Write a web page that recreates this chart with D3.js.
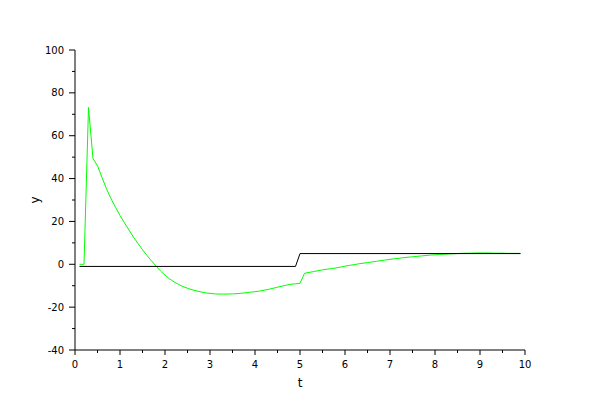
<!DOCTYPE html>
<html>
<head>
<meta charset="utf-8">
<script src="https://cdn.jsdelivr.net/npm/d3@7"></script>
<style>
  body { margin: 0; background: #fff; }
  svg { display: block; }
  text { font-family: "DejaVu Sans", sans-serif; }
</style>
</head>
<body>
<svg id="chart" width="600" height="400"></svg>
<script>
// ---- data ----
const xTicks = [0, 1, 2, 3, 4, 5, 6, 7, 8, 9, 10];
const yTicks = [-40, -20, 0, 20, 40, 60, 80, 100];
const xDomain = [0, 10];
const yDomain = [-40, 100];

// reference (setpoint) signal, black
const refT = [0.1, 4.9, 5.0, 9.9];
const refV = [-1, -1, 5, 5];

// response signal, green (sampled every 0.1 s)
const respT = [
  0.1, 0.2, 0.3, 0.4, 0.5, 0.6, 0.7, 0.8, 0.9, 1.0,
  1.1, 1.2, 1.3, 1.4, 1.5, 1.6, 1.7, 1.8, 1.9, 2.0,
  2.1, 2.2, 2.3, 2.4, 2.5, 2.6, 2.7, 2.8, 2.9, 3.0,
  3.1, 3.2, 3.3, 3.4, 3.5, 3.6, 3.7, 3.8, 3.9, 4.0,
  4.1, 4.2, 4.3, 4.4, 4.5, 4.6, 4.7, 4.8, 4.9, 5.0,
  5.1, 5.2, 5.3, 5.4, 5.5, 5.6, 5.7, 5.8, 5.9, 6.0,
  6.1, 6.2, 6.3, 6.4, 6.5, 6.6, 6.7, 6.8, 6.9, 7.0,
  7.1, 7.2, 7.3, 7.4, 7.5, 7.6, 7.7, 7.8, 7.9, 8.0,
  8.1, 8.2, 8.3, 8.4, 8.5, 8.6, 8.7, 8.8, 8.9, 9.0,
  9.1, 9.2, 9.3, 9.4, 9.5, 9.6, 9.7, 9.8, 9.9
];
const respV = [
  0, 0, 73.2, 49.3, 46.0, 40.5, 35.2, 30.6, 26.6, 22.8,
  19.3, 16.0, 12.7, 9.7, 6.8, 4.1, 1.6, -0.8, -3.1, -5.1,
  -6.8, -8.2, -9.4, -10.4, -11.2, -11.9, -12.4, -12.9, -13.3, -13.6,
  -13.8, -13.9, -13.9, -13.9, -13.8, -13.7, -13.5, -13.3, -13.0, -12.8,
  -12.5, -12.1, -11.7, -11.2, -10.7, -10.2, -9.7, -9.3, -9.1, -8.9,
  -4.2, -3.8, -3.4, -3.0, -2.6, -2.3, -2.0, -1.7, -1.3, -0.9,
  -0.5, -0.2, 0.2, 0.5, 0.8, 1.1, 1.4, 1.7, 2.0, 2.3,
  2.6, 2.8, 3.1, 3.3, 3.5, 3.7, 3.9, 4.1, 4.3, 4.4,
  4.6, 4.7, 4.8, 4.9, 5.0, 5.1, 5.2, 5.2, 5.3, 5.3,
  5.3, 5.3, 5.2, 5.2, 5.2, 5.1, 5.1, 5.1, 5.1
];

const xLabel = "t";
const yLabel = "y";

// ---- layout ----
const svg = d3.select("#chart");
const mLeft = 75, mRight = 525, mTop = 50, mBottom = 350;

const x = d3.scaleLinear().domain(xDomain).range([mLeft, mRight]);
const y = d3.scaleLinear().domain(yDomain).range([mBottom, mTop]);

// minor ticks
const xMinor = d3.range(xDomain[0], xDomain[1] + 1e-9, 0.5).filter(v => !xTicks.includes(v));
const yMinor = d3.range(yDomain[0], yDomain[1] + 1e-9, 10).filter(v => !yTicks.includes(v));

// x axis
const gx = svg.append("g").attr("transform", `translate(0,${mBottom})`);
gx.append("line").attr("x1", mLeft).attr("x2", mRight).attr("y1", 0).attr("y2", 0)
  .attr("stroke", "#000").attr("stroke-width", 1);
gx.selectAll("line.maj").data(xTicks).join("line").attr("class", "maj")
  .attr("x1", d => x(d)).attr("x2", d => x(d)).attr("y1", 0).attr("y2", 5)
  .attr("stroke", "#000");
gx.selectAll("line.min").data(xMinor).join("line").attr("class", "min")
  .attr("x1", d => x(d)).attr("x2", d => x(d)).attr("y1", 0).attr("y2", 3)
  .attr("stroke", "#000");
gx.selectAll("text").data(xTicks).join("text")
  .attr("x", d => x(d)).attr("y", 18)
  .attr("text-anchor", "middle").attr("font-size", 10).attr("fill", "#000")
  .text(d => d);

// y axis
const gy = svg.append("g").attr("transform", `translate(${mLeft},0)`);
gy.append("line").attr("x1", 0).attr("x2", 0).attr("y1", mTop).attr("y2", mBottom)
  .attr("stroke", "#000").attr("stroke-width", 1);
gy.selectAll("line.maj").data(yTicks).join("line").attr("class", "maj")
  .attr("x1", -6).attr("x2", 0).attr("y1", d => y(d)).attr("y2", d => y(d))
  .attr("stroke", "#000");
gy.selectAll("line.min").data(yMinor).join("line").attr("class", "min")
  .attr("x1", -3).attr("x2", 0).attr("y1", d => y(d)).attr("y2", d => y(d))
  .attr("stroke", "#000");
gy.selectAll("text").data(yTicks).join("text")
  .attr("x", -11).attr("y", d => y(d)).attr("dy", "0.35em")
  .attr("text-anchor", "end").attr("font-size", 10).attr("fill", "#000")
  .text(d => d);

// axis titles
svg.append("text").attr("x", (mLeft + mRight) / 2).attr("y", 387)
  .attr("text-anchor", "middle").attr("font-size", 12).attr("fill", "#000")
  .text(xLabel);
svg.append("text").attr("transform", `translate(39,${(mTop + mBottom) / 2}) rotate(-90)`)
  .attr("text-anchor", "middle").attr("font-size", 12).attr("fill", "#000")
  .text(yLabel);

// lines
const line = d3.line().x(d => x(d[0])).y(d => y(d[1]));
const respData = respT.map((t, i) => [t, respV[i]]);
const refData = refT.map((t, i) => [t, refV[i]]);

svg.append("path").datum(respData).attr("d", line)
  .attr("fill", "none").attr("stroke", "#00ff00").attr("stroke-width", 1);
svg.append("path").datum(refData).attr("d", line)
  .attr("fill", "none").attr("stroke", "#000").attr("stroke-width", 1);
</script>
</body>
</html>
